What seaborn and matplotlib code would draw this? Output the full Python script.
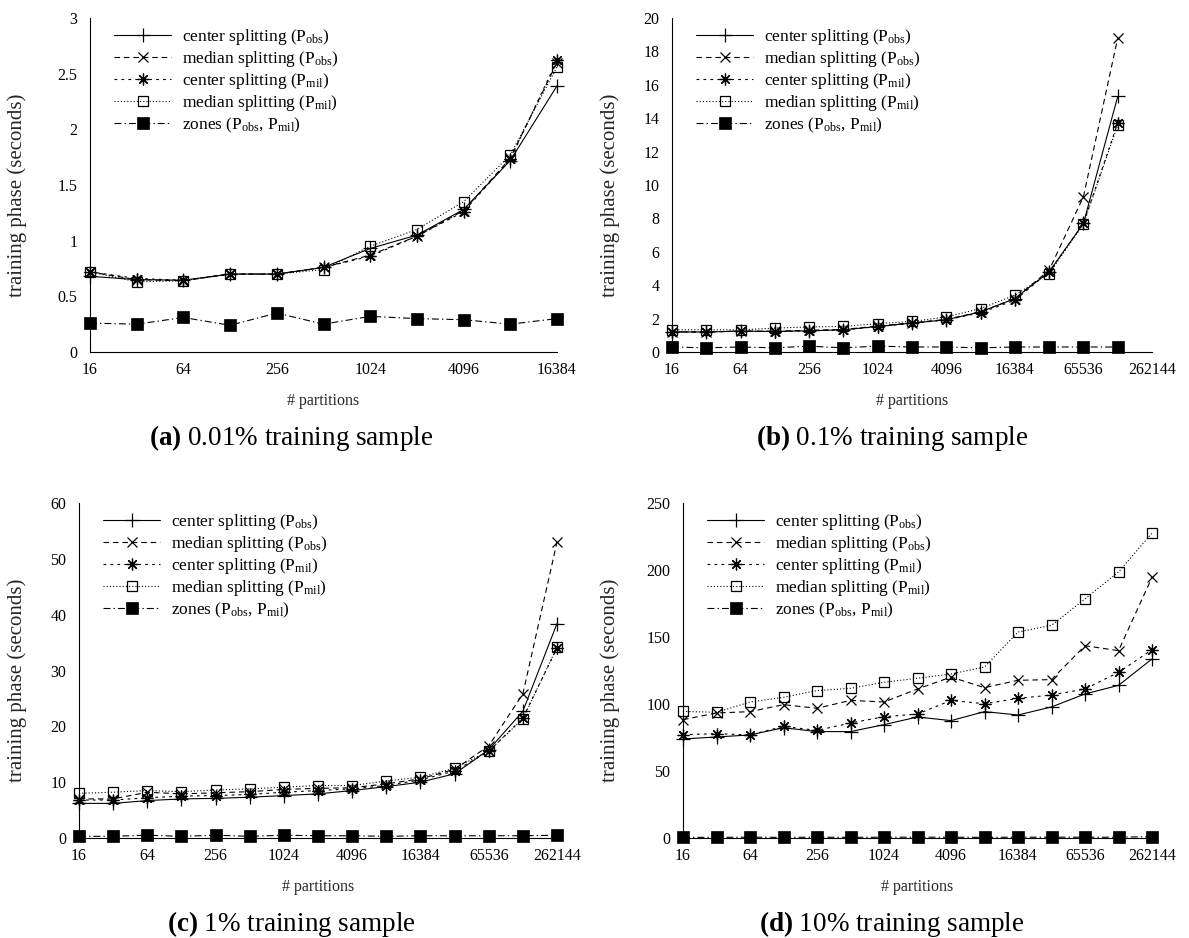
import matplotlib
matplotlib.use("Agg")
import matplotlib.pyplot as plt
from matplotlib.ticker import FixedLocator, FixedFormatter, FuncFormatter, MultipleLocator, NullLocator
import pandas as pd
import seaborn as sns

# ---------------------------------------------------------------- data
parts_a = [16, 32, 64, 128, 256, 512, 1024, 2048, 4096, 8192, 16384]
parts_b = [16, 32, 64, 128, 256, 512, 1024, 2048, 4096, 8192, 16384, 32768,
           65536, 131072]
parts_cd = [16, 32, 64, 128, 256, 512, 1024, 2048, 4096, 8192, 16384, 32768,
            65536, 131072, 262144]

# (a) 0.01% training sample
a_center_obs = [0.68, 0.65, 0.645, 0.70, 0.70, 0.76, 0.93, 1.05, 1.28, 1.72, 2.39]
a_median_obs = [0.72, 0.65, 0.64, 0.70, 0.70, 0.76, 0.87, 1.04, 1.27, 1.74, 2.60]
a_center_mil = [0.72, 0.66, 0.645, 0.70, 0.70, 0.76, 0.86, 1.04, 1.26, 1.73, 2.62]
a_median_mil = [0.72, 0.63, 0.64, 0.70, 0.70, 0.74, 0.95, 1.10, 1.35, 1.77, 2.56]
a_zones = [0.26, 0.25, 0.31, 0.24, 0.35, 0.25, 0.32, 0.30, 0.29, 0.25, 0.30]

# (b) 0.1% training sample
b_center_obs = [1.2, 1.2, 1.25, 1.23, 1.27, 1.33, 1.53, 1.73, 1.93, 2.4, 3.2, 4.8, 7.7, 15.3]
b_median_obs = [1.2, 1.2, 1.25, 1.25, 1.3, 1.35, 1.55, 1.75, 1.95, 2.4, 3.2, 4.9, 9.3, 18.8]
b_center_mil = [1.2, 1.2, 1.25, 1.22, 1.27, 1.32, 1.52, 1.72, 1.92, 2.35, 3.1, 4.8, 7.7, 13.7]
b_median_mil = [1.33, 1.33, 1.33, 1.43, 1.5, 1.53, 1.7, 1.83, 2.1, 2.6, 3.4, 4.7, 7.65, 13.6]
b_zones = [0.3, 0.25, 0.3, 0.25, 0.35, 0.25, 0.35, 0.3, 0.3, 0.25, 0.3, 0.3, 0.3, 0.3]

# (c) 1% training sample
c_center_obs = [6.2, 6.2, 6.7, 7.0, 7.1, 7.3, 7.6, 7.9, 8.5, 9.2, 10.0, 11.5, 15.8, 22.7, 38.4]
c_median_obs = [7.0, 7.0, 8.2, 7.9, 8.1, 8.3, 8.7, 8.9, 9.0, 9.7, 10.6, 12.3, 16.5, 25.8, 53.0]
c_center_mil = [6.8, 6.8, 7.2, 7.5, 7.6, 7.8, 8.2, 8.5, 8.8, 9.4, 10.4, 12.0, 15.5, 21.5, 34.0]
c_median_mil = [8.0, 8.2, 8.5, 8.3, 8.6, 8.8, 9.1, 9.4, 9.4, 10.2, 10.9, 12.5, 15.6, 21.3, 34.2]
c_zones = [0.3, 0.3, 0.5, 0.3, 0.5, 0.3, 0.5, 0.4, 0.4, 0.3, 0.4, 0.4, 0.4, 0.4, 0.5]

# (d) 10% training sample
d_center_obs = [73.9, 75.4, 76.9, 82.3, 79.4, 79.4, 84.6, 90.3, 87.6, 94.3, 91.8, 97.8, 107.5, 113.9, 133.6]
d_median_obs = [88.3, 93.3, 94.3, 99.5, 96.8, 102.7, 101.5, 111.2, 120.1, 112.2, 117.7, 118.2, 143.5, 139.8, 194.5]
d_center_mil = [77.1, 77.9, 76.9, 83.3, 80.3, 85.8, 90.5, 92.5, 102.7, 100.2, 104.2, 106.7, 111.2, 123.6, 140.5]
d_median_mil = [94.5, 93.8, 101.5, 105.0, 110.0, 111.7, 116.2, 119.2, 122.4, 127.6, 153.7, 158.7, 178.4, 198.5, 227.6]
d_zones = [0.5, 0.5, 0.6, 0.5, 0.6, 0.5, 0.6, 0.6, 0.6, 0.5, 0.6, 0.6, 0.6, 0.6, 1.0]

series_labels = [
    r"center splitting (P$_{\mathrm{obs}}$)",
    r"median splitting (P$_{\mathrm{obs}}$)",
    r"center splitting (P$_{\mathrm{mil}}$)",
    r"median splitting (P$_{\mathrm{mil}}$)",
    r"zones (P$_{\mathrm{obs}}$, P$_{\mathrm{mil}}$)",
]

captions = [
    (r"$\mathbf{(a)}$", " 0.01% training sample"),
    (r"$\mathbf{(b)}$", " 0.1% training sample"),
    (r"$\mathbf{(c)}$", " 1% training sample"),
    (r"$\mathbf{(d)}$", " 10% training sample"),
]

# ---------------------------------------------------------------- style
sns.set_theme(style="white")
plt.rcParams.update({
    "font.family": ["Liberation Serif", "DejaVu Serif"],
    "mathtext.fontset": "custom",
    "mathtext.rm": "Liberation Serif",
    "mathtext.it": "Liberation Serif:italic",
    "mathtext.bf": "Liberation Serif:bold",
    "lines.scale_dashes": False,
    "axes.edgecolor": "black",
    "axes.linewidth": 0.8,
    "text.color": "black",
    "xtick.color": "black",
    "ytick.color": "black",
})

LW = 0.8
styles = [
    dict(linestyle="-", marker="+", markersize=9.5, mew=0.9, mfc="none"),
    dict(linestyle=(0, (4.0, 2.8)), marker="x", markersize=7.5, mew=0.9, mfc="none"),
    dict(linestyle=(0, (2.0, 3.0)), marker=(8, 2, 0), markersize=8.5, mew=0.9, mfc="none"),
    dict(linestyle=(0, (0.8, 1.5)), marker="s", markersize=7.5, mew=0.9, mfc="none"),
    dict(linestyle=(0, (5.0, 2.2, 1.0, 2.2)), marker="s", markersize=8, mew=0.5, mfc="black"),
]

W, H = 1189, 938
fig = plt.figure(figsize=(W / 100, H / 100), dpi=100)

# panel boxes in pixels: left, right, top, bottom
boxes = [(90, 557, 18, 352), (672, 1152, 18, 352), (79, 557, 503, 838), (683, 1152, 503, 838)]
panels = [
    (parts_a, [a_center_obs, a_median_obs, a_center_mil, a_median_mil, a_zones], (0, 3), 0.5,
     parts_a[-1], parts_a),
    (parts_b, [b_center_obs, b_median_obs, b_center_mil, b_median_mil, b_zones], (0, 20), 2,
     parts_cd[-1], parts_cd),
    (parts_cd, [c_center_obs, c_median_obs, c_center_mil, c_median_mil, c_zones], (0, 60), 10,
     parts_cd[-1], parts_cd),
    (parts_cd, [d_center_obs, d_median_obs, d_center_mil, d_median_mil, d_zones], (0, 250), 50,
     parts_cd[-1], parts_cd),
]

half_centres = [W * 0.245, W * 0.75, W * 0.245, W * 0.75]
caption_y = [438, 438, 924, 924]
ylabel_x = [17, 610, 17, 610]

for i, (box, panel) in enumerate(zip(boxes, panels)):
    l, r, t, b = box
    ax = fig.add_axes([l / W, 1 - b / H, (r - l) / W, (b - t) / H])
    xs, ys_list, ylim, ystep, xmax, tick_parts = panel

    for label, ys, st in zip(series_labels, ys_list, styles):
        frame = pd.DataFrame({"partitions": xs, "seconds": ys})
        sns.lineplot(data=frame, x="partitions", y="seconds", ax=ax, color="black",
                     lw=LW, mec="black", label=label, errorbar=None,
                     clip_on=False, **st)

    ax.set_xscale("log", base=2)
    ax.set_xlim(16, xmax)
    ax.set_ylim(*ylim)
    ticks = [p for p in tick_parts if p <= xmax]
    ax.xaxis.set_major_locator(FixedLocator(ticks))
    ax.xaxis.set_major_formatter(FixedFormatter(
        [str(p) if k % 2 == 0 else "" for k, p in enumerate(ticks)]))
    ax.xaxis.set_minor_locator(NullLocator())
    ax.yaxis.set_major_locator(MultipleLocator(ystep))
    ax.yaxis.set_major_formatter(FuncFormatter(lambda v, p: f"{v:g}"))

    ax.tick_params(axis="both", direction="in", length=6, width=0.8, labelsize=11.5)
    ax.tick_params(axis="y", pad=9)
    ax.tick_params(axis="x", pad=7)
    for side in ("top", "right"):
        ax.spines[side].set_visible(False)

    ax.set_xlabel("# partitions", fontsize=11.5)
    ax.xaxis.set_label_coords(0.5, -0.122)
    ax.set_ylabel("training phase (seconds)", fontsize=15)
    ax.yaxis.label.set(va="center", ha="center", rotation_mode="anchor")
    ax.yaxis.set_label_coords((ylabel_x[i] - l) / (r - l), 0.47)

    ax.legend(loc="upper left", bbox_to_anchor=(24 / (r - l), 1 - 9 / (b - t)),
              frameon=False, fontsize=12.5, borderaxespad=0, borderpad=0,
              handlelength=3.3, handletextpad=0.6, labelspacing=0.12,
              numpoints=1)

    bold, rest = captions[i]
    fig.text(half_centres[i] / W, 1 - caption_y[i] / H, bold + rest,
             ha="center", va="center", fontsize=19.5)

fig.savefig("out.png", dpi=100)
